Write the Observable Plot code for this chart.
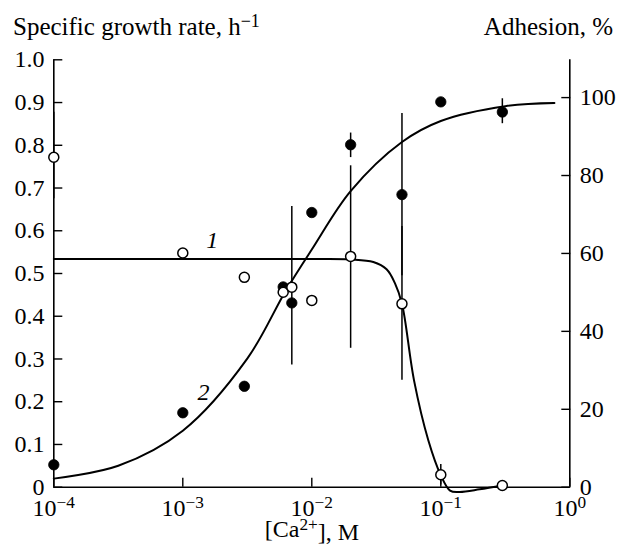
<!DOCTYPE html>
<html>
<head>
<meta charset="utf-8">
<script src="https://cdn.jsdelivr.net/npm/d3@7"></script>
<script src="https://cdn.jsdelivr.net/npm/@observablehq/plot@0.6"></script>
<style>
  html, body { margin: 0; padding: 0; background: #fff; }
  #chart { width: 618px; height: 546px; }
</style>
</head>
<body>
<div id="chart"></div>
<script>
const FONT = "'Liberation Serif', 'Times New Roman', serif";

// ---- axes / ticks ----
const xTicks = [1e-4, 1e-3, 1e-2, 1e-1, 1];
const xTickLabels = ["10^−4", "10^−3", "10^−2", "10^−1", "10^0"];
const growthTicks = [0, 0.1, 0.2, 0.3, 0.4, 0.5, 0.6, 0.7, 0.8, 0.9, 1.0];
const adhTicks = [0, 20, 40, 60, 80, 100];
const ADH_MAX = 109.7; // right axis value at the top of the frame (left = 1.0)

// ---- curve 1: specific growth rate (open circles) ----
const growthX = [1e-4, 1e-3, 0.003, 0.006, 0.007, 0.01, 0.02, 0.05, 0.1, 0.3];
const growthY = [0.772, 0.548, 0.491, 0.456, 0.468, 0.437, 0.540, 0.429, 0.029, 0.004];
const growthErrX  = [1e-4, 0.007, 0.02, 0.05, 0.1];
const growthErrLo = [0.675, 0.286, 0.325, 0.25, 0.005];
const growthErrHi = [0.877, 0.657, 0.752, 0.61, 0.053];
const curve1X = [1e-4, 1e-3, 0.01, 0.02, 0.03, 0.038, 0.044, 0.05, 0.062, 0.08, 0.1, 0.118, 0.14, 0.2, 0.3];
const curve1Y = [0.534, 0.534, 0.534, 0.533, 0.527, 0.510, 0.478, 0.429, 0.25, 0.11, 0.028, -0.008, -0.011, -0.005, 0.004];

// ---- curve 2: adhesion, % (filled circles) ----
const adhX = [1e-4, 1e-3, 0.003, 0.006, 0.007, 0.01, 0.02, 0.05, 0.1, 0.3];
const adhY = [5.75, 19.1, 25.9, 51.4, 47.3, 70.5, 87.9, 75.1, 98.9, 96.3];
const adhErrX  = [0.02, 0.05, 0.3];
const adhErrLo = [84.6, 54.3, 93.3];
const adhErrHi = [90.9, 95.9, 99.7];
const curve2X = [1e-4, 0.000316, 0.001, 0.00316, 0.0063, 0.01, 0.02, 0.05, 0.1, 0.316, 0.76];
const curve2Y = [2.2, 5.5, 14.5, 33, 50.5, 61, 76, 88.6, 94, 97.8, 98.6];

// ---- curve labels ----
const curveLabels = ["1", "2"];
const curveLabelX = [0.00169, 0.00145];
const curveLabelY = [0.577, 24.4 / ADH_MAX];

const toLeft = v => v / ADH_MAX;
const idx = n => Array.from({length: n}, (_, i) => i);

const plot = Plot.plot({
  width: 618,
  height: 546,
  marginTop: 59.3,
  marginBottom: 59.3,
  marginLeft: 53.3,
  marginRight: 48.7,
  style: {fontFamily: FONT, fontSize: "24px", background: "white", color: "black"},
  x: {type: "log", domain: [1e-4, 1]},
  y: {domain: [0, 1]},
  marks: [
    Plot.ruleX([1e-4, 1], {stroke: "black", strokeWidth: 1.6}),
    Plot.ruleY([0], {stroke: "black", strokeWidth: 1.6}),
    Plot.axisX(xTicks, {tickSize: -9, tickPadding: 20.3, strokeWidth: 1.4, tickFormat: d => xTickLabels[xTicks.indexOf(d)], label: null}),
    Plot.axisY(growthTicks, {anchor: "left", tickSize: -9, tickPadding: 18.3, strokeWidth: 1.4, tickFormat: d => d === 0 ? "0" : d.toFixed(1), label: null}),
    Plot.axisY(adhTicks.map(toLeft), {anchor: "right", tickSize: -9, tickPadding: 19, strokeWidth: 1.4, tickFormat: d => String(Math.round(d * ADH_MAX)), label: null}),
    // error bars
    Plot.ruleX(idx(growthErrX.length), {x: i => growthErrX[i], y1: i => growthErrLo[i], y2: i => growthErrHi[i], stroke: "black", strokeWidth: 1.5}),
    Plot.ruleX(idx(adhErrX.length), {x: i => adhErrX[i], y1: i => toLeft(adhErrLo[i]), y2: i => toLeft(adhErrHi[i]), stroke: "black", strokeWidth: 1.5}),
    // curves
    Plot.line(idx(curve1X.length), {x: i => curve1X[i], y: i => curve1Y[i], curve: "catmull-rom", stroke: "black", strokeWidth: 2}),
    Plot.line(idx(curve2X.length), {x: i => curve2X[i], y: i => toLeft(curve2Y[i]), curve: "catmull-rom", stroke: "black", strokeWidth: 2}),
    // points
    Plot.dot(idx(adhX.length), {x: i => adhX[i], y: i => toLeft(adhY[i]), r: 5.2, fill: "black", stroke: "black", strokeWidth: 0.8}),
    Plot.dot(idx(growthX.length), {x: i => growthX[i], y: i => growthY[i], r: 5, fill: "white", stroke: "black", strokeWidth: 1.5}),
    // curve labels
    Plot.text(idx(curveLabels.length), {x: i => curveLabelX[i], y: i => curveLabelY[i], text: i => curveLabels[i], fontStyle: "italic", fontSize: 24, fill: "black"})
  ]
});

document.getElementById("chart").appendChild(plot);

const svg = d3.select(plot);

// superscripts for the x tick labels
svg.selectAll('g[aria-label="x-axis tick label"] text').each(function() {
  const t = this.textContent;
  const parts = t.split("^");
  if (parts.length === 2) {
    const sel = d3.select(this);
    sel.text(null);
    sel.append("tspan").text(parts[0]);
    sel.append("tspan").attr("dy", "-0.42em").attr("font-size", "0.72em").text(parts[1]);
  }
});

// titles
const t1 = svg.append("text").attr("x", 13).attr("y", 35).attr("font-size", 25).attr("fill", "black").attr("text-anchor", "start");
t1.append("tspan").text("Specific growth rate, h");
t1.append("tspan").attr("dy", "-0.42em").attr("font-size", "0.72em").text("−1");

svg.append("text").attr("x", 613).attr("y", 35).attr("font-size", 25).attr("fill", "black").attr("text-anchor", "end").text("Adhesion, %");

const t3 = svg.append("text").attr("x", 312).attr("y", 537).attr("font-size", 24).attr("fill", "black").attr("text-anchor", "middle");
t3.append("tspan").text("[Ca");
t3.append("tspan").attr("dy", "-0.42em").attr("font-size", "0.72em").text("2+");
t3.append("tspan").attr("dy", "0.42em").text("], M");

svg.selectAll("text").style("font-family", FONT);
</script>
</body>
</html>
